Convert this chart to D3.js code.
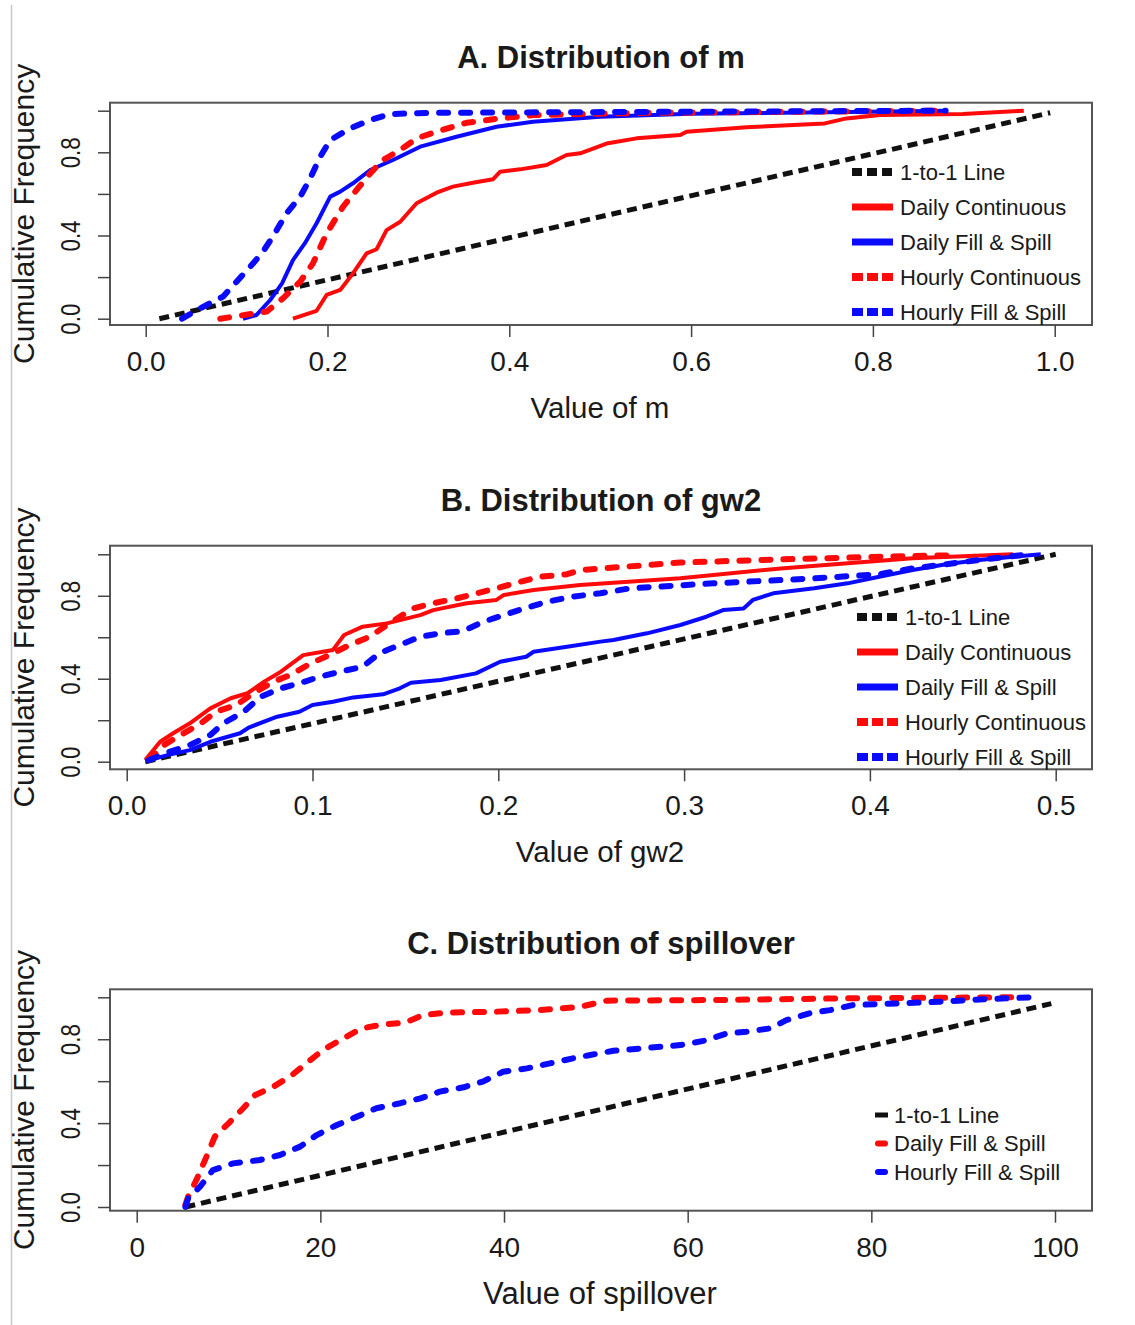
<!DOCTYPE html>
<html>
<head>
<meta charset="utf-8">
<script src="https://cdn.jsdelivr.net/npm/d3@7"></script>
<style>
    body { margin: 0; background: #ffffff; }
    svg text { font-family: "Liberation Sans", Arial, Helvetica, sans-serif; fill: #1a1a1a; }
</style>
</head>
<body>
<div id="chart"></div>
<script>

// ---- data: [value, cumulative frequency] ----

// A. m
let mOneToOne = [[0.015, 0], [0.995, 0.99]];
let mDailyCont = [[0.162,0],[0.188,0.038],[0.199,0.114],[0.214,0.138],[0.228,0.218],[0.243,0.314],[0.254,0.334],[0.265,0.426],[0.280,0.466],[0.298,0.555],[0.320,0.606],[0.338,0.635],[0.360,0.654],[0.382,0.670],[0.390,0.707],[0.412,0.718],[0.441,0.739],[0.463,0.787],[0.478,0.795],[0.507,0.842],[0.540,0.867],[0.588,0.883],[0.595,0.899],[0.661,0.920],[0.747,0.939],[0.771,0.963],[0.808,0.979],[0.899,0.984],[0.966,1.0]];
let mDailyFill = [[0.107,0],[0.122,0.018],[0.137,0.09],[0.150,0.17],[0.162,0.282],[0.175,0.362],[0.188,0.459],[0.203,0.587],[0.214,0.611],[0.228,0.651],[0.247,0.715],[0.272,0.763],[0.302,0.827],[0.342,0.875],[0.386,0.923],[0.426,0.947],[0.500,0.971],[0.600,0.985],[0.750,0.993],[0.881,1.0]];
let mHourlyCont = [[0.082,0],[0.133,0.034],[0.151,0.098],[0.170,0.178],[0.184,0.266],[0.199,0.41],[0.217,0.538],[0.232,0.619],[0.247,0.699],[0.261,0.763],[0.280,0.811],[0.298,0.867],[0.320,0.899],[0.353,0.942],[0.390,0.963],[0.426,0.979],[0.550,0.99],[0.880,1.0]];
let mHourlyFill = [[0.040,0],[0.060,0.05],[0.085,0.106],[0.100,0.178],[0.115,0.25],[0.129,0.322],[0.142,0.41],[0.155,0.507],[0.170,0.587],[0.181,0.675],[0.192,0.779],[0.203,0.859],[0.225,0.915],[0.247,0.955],[0.269,0.984],[0.316,0.99],[0.600,0.995],[0.880,1.0]];

// B. gw2
let gwOneToOne = [[0.01, 0], [0.5, 1.0]];
let gwDailyCont = [[0.010,0.008],[0.018,0.096],[0.025,0.137],[0.034,0.185],[0.045,0.257],[0.056,0.306],[0.065,0.33],[0.074,0.386],[0.083,0.434],[0.095,0.514],[0.111,0.539],[0.117,0.611],[0.127,0.651],[0.140,0.667],[0.158,0.707],[0.165,0.731],[0.183,0.764],[0.199,0.78],[0.203,0.804],[0.219,0.828],[0.244,0.852],[0.298,0.884],[0.352,0.932],[0.388,0.957],[0.423,0.981],[0.477,1.0]];
let gwDailyFill = [[0.010,0.003],[0.022,0.032],[0.034,0.056],[0.045,0.096],[0.061,0.137],[0.066,0.166],[0.081,0.217],[0.093,0.241],[0.100,0.273],[0.111,0.289],[0.122,0.31],[0.138,0.325],[0.147,0.354],[0.153,0.381],[0.169,0.394],[0.188,0.426],[0.201,0.482],[0.215,0.506],[0.219,0.53],[0.237,0.554],[0.255,0.579],[0.262,0.587],[0.280,0.619],[0.298,0.659],[0.312,0.699],[0.321,0.731],[0.332,0.739],[0.337,0.78],[0.348,0.812],[0.370,0.836],[0.388,0.86],[0.405,0.892],[0.423,0.924],[0.441,0.952],[0.459,0.973],[0.477,0.988],[0.492,1.0]];
let gwHourlyCont = [[0.012,0.008],[0.020,0.08],[0.029,0.129],[0.040,0.185],[0.048,0.241],[0.059,0.273],[0.068,0.33],[0.079,0.386],[0.088,0.418],[0.099,0.474],[0.109,0.514],[0.120,0.563],[0.131,0.603],[0.140,0.659],[0.154,0.739],[0.165,0.764],[0.178,0.788],[0.199,0.836],[0.212,0.868],[0.223,0.892],[0.237,0.904],[0.244,0.924],[0.298,0.96],[0.350,0.975],[0.400,0.987],[0.443,0.995]];
let gwHourlyFill = [[0.012,0.008],[0.023,0.048],[0.034,0.08],[0.045,0.129],[0.052,0.185],[0.063,0.241],[0.072,0.313],[0.083,0.354],[0.093,0.378],[0.104,0.41],[0.115,0.434],[0.127,0.458],[0.136,0.523],[0.147,0.563],[0.158,0.603],[0.169,0.619],[0.181,0.63],[0.192,0.675],[0.203,0.707],[0.214,0.739],[0.226,0.771],[0.240,0.796],[0.255,0.812],[0.271,0.836],[0.316,0.86],[0.370,0.884],[0.405,0.904],[0.423,0.932],[0.441,0.952],[0.459,0.973],[0.486,1.0]];

// C. spillover
let spOneToOne = [[5.3, 0], [99.6, 0.97]];
let spDailyFill = [[5.3,0.01],[5.6,0.049],[6.5,0.129],[7.6,0.24],[8.5,0.335],[10.0,0.399],[11.6,0.471],[12.9,0.534],[14.9,0.574],[16.9,0.629],[18.7,0.693],[20.3,0.749],[22.5,0.804],[24.5,0.852],[26.9,0.871],[29.2,0.879],[31.2,0.916],[33.8,0.927],[38.8,0.931],[43.9,0.939],[48.3,0.955],[51.2,0.984],[62.8,0.987],[77.3,0.995],[95.5,1.0]];
let spHourlyFill = [[5.3,0],[5.6,0.041],[6.9,0.097],[8.3,0.176],[10.5,0.208],[13.4,0.224],[15.6,0.248],[17.8,0.288],[19.6,0.343],[21.8,0.391],[24.0,0.431],[26.1,0.471],[28.7,0.495],[30.9,0.518],[33.0,0.55],[35.6,0.571],[37.7,0.598],[39.9,0.645],[42.5,0.661],[45.0,0.685],[47.5,0.709],[49.4,0.725],[51.9,0.745],[57.0,0.764],[59.2,0.772],[61.7,0.792],[64.3,0.828],[66.4,0.836],[69.0,0.852],[70.8,0.892],[73.3,0.924],[75.5,0.939],[78.0,0.963],[82.8,0.971],[87.5,0.979],[91.8,0.99],[97.6,1.0]];

// ticks and labels
let yTicks = [0, 0.2, 0.4, 0.6, 0.8, 1.0];
let yTickLabels = [0, 0.4, 0.8];
let mTicks = [0, 0.2, 0.4, 0.6, 0.8, 1.0];
let gwTicks = [0, 0.1, 0.2, 0.3, 0.4, 0.5];
let spTicks = [0, 20, 40, 60, 80, 100];

let titles = ["A. Distribution of m", "B. Distribution of gw2", "C. Distribution of spillover"];
let xLabels = ["Value of m", "Value of gw2", "Value of spillover"];
let yLabel = "Cumulative Frequency";
let legendAB = ["1-to-1 Line", "Daily Continuous", "Daily Fill & Spill", "Hourly Continuous", "Hourly Fill & Spill"];
let legendC = ["1-to-1 Line", "Daily Fill & Spill", "Hourly Fill & Spill"];


// ---- drawing ----

let RED = "#ff0a0a", BLUE = "#0a0aff", BLACK = "#111111";

let svg = d3.select("#chart").append("svg")
    .attr("width", 1135)
    .attr("height", 1325);

// thin page border on the left
svg.append("line")
    .attr("x1", 11.5).attr("x2", 11.5)
    .attr("y1", 5).attr("y2", 1325)
    .attr("stroke", "#c8c8c8")
    .attr("stroke-width", 1.5);

class CdfPanel {

    constructor(svg, config) {
        this.svg = svg;
        this.config = config;
        this.initVis();
    }

    initVis() {
        let vis = this;
        let c = vis.config;
        let box = c.box;

        vis.g = vis.svg.append("g");

        vis.x = d3.scaleLinear().domain(c.xDomain).range(c.xRange);
        vis.y = d3.scaleLinear().domain([0, 1]).range(c.yRange);

        vis.line = d3.line()
            .x(d => vis.x(d[0]))
            .y(d => vis.y(d[1]));

        // curves
        c.series.forEach(s => {
            let p = vis.g.append("path")
                .datum(s.data)
                .attr("fill", "none")
                .attr("stroke", s.color)
                .attr("d", vis.line);
            if (s.style === "one") {
                p.attr("stroke-width", 5).attr("stroke-dasharray", "10,6");
            } else if (s.style === "dashed") {
                p.attr("stroke-width", 6).attr("stroke-dasharray", "9,13")
                    .attr("stroke-linecap", "round").attr("stroke-linejoin", "round");
            } else {
                p.attr("stroke-width", 4).attr("stroke-linejoin", "round");
            }
        });

        // plot box
        vis.g.append("rect")
            .attr("x", box.x0).attr("y", box.y0)
            .attr("width", box.x1 - box.x0).attr("height", box.y1 - box.y0)
            .attr("fill", "none")
            .attr("stroke", "#555555")
            .attr("stroke-width", 2);

        // x axis
        vis.xAxis = d3.axisBottom(vis.x)
            .tickValues(c.xTicks)
            .tickSize(12)
            .tickPadding(14)
            .tickFormat(c.xFormat);

        let xg = vis.g.append("g")
            .attr("transform", "translate(0," + box.y1 + ")")
            .call(vis.xAxis);
        xg.select(".domain").remove();
        xg.selectAll(".tick line").attr("stroke", "#444").attr("stroke-width", 1.5);
        xg.selectAll(".tick text")
            .attr("font-size", 28)
            .attr("font-family", null)
            .attr("fill", "#1a1a1a");

        // y axis (labels parallel to the axis, like R)
        vis.yAxis = d3.axisLeft(vis.y)
            .tickValues(yTicks)
            .tickSize(12)
            .tickFormat(d => yTickLabels.includes(d) ? d3.format(".1f")(d) : "");

        let yg = vis.g.append("g")
            .attr("transform", "translate(" + box.x0 + ",0)")
            .call(vis.yAxis);
        yg.select(".domain").remove();
        yg.selectAll(".tick line").attr("stroke", "#444").attr("stroke-width", 1.5);
        yg.selectAll(".tick text")
            .attr("x", null)
            .attr("dy", "0.35em")
            .attr("font-size", 28)
            .attr("font-family", null)
            .attr("fill", "#1a1a1a")
            .attr("text-anchor", "middle")
            .attr("transform", "translate(-40,0) rotate(-90) scale(0.8,1)");

        // title
        vis.g.append("text")
            .attr("x", (box.x0 + box.x1) / 2)
            .attr("y", box.y0 - 35)
            .attr("text-anchor", "middle")
            .attr("font-size", 31)
            .attr("font-weight", "bold")
            .text(c.title);

        // x label
        vis.g.append("text")
            .attr("x", (box.x0 + box.x1) / 2 - 1)
            .attr("y", box.y1 + 93)
            .attr("text-anchor", "middle")
            .attr("font-size", c.xLabelSize)
            .text(c.xLabel);

        // y label
        vis.g.append("text")
            .attr("transform", `translate(34,${(box.y0 + box.y1) / 2}) rotate(-90)`)
            .attr("text-anchor", "middle")
            .attr("font-size", 30)
            .text(yLabel);

        vis.drawLegend();
    }

    drawLegend() {
        let vis = this;
        let lg = vis.config.legend;

        let items = vis.g.append("g").selectAll(".legend-item")
            .data(vis.config.series)
            .enter().append("g")
            .attr("class", "legend-item")
            .attr("transform", (d, i) => "translate(0," + (lg.y0 + i * lg.dy) + ")");

        items.append("line")
            .attr("x1", lg.x)
            .attr("x2", d => lg.compact && d.style === "dashed" ? lg.x + lg.w - 6 : lg.x + lg.w)
            .attr("transform", d => lg.compact && d.style === "dashed" ? "translate(3,0)" : null)
            .attr("y1", 0).attr("y2", 0)
            .attr("stroke", d => d.color)
            .attr("stroke-width", d => lg.compact ? (d.style === "one" ? 5 : 6) : (d.style === "solid" ? 7 : 8))
            .attr("stroke-linecap", d => lg.compact && d.style === "dashed" ? "round" : "butt")
            .attr("stroke-dasharray", d => {
                if (lg.compact) return null;
                if (d.style === "one") return "10,5";
                if (d.style === "dashed") return "11,4";
                return null;
            });

        items.append("text")
            .attr("x", lg.textX)
            .attr("y", 0)
            .attr("dy", "0.36em")
            .attr("font-size", 22)
            .text(d => d.label);
    }
}

let panelA = new CdfPanel(svg, {
    title: titles[0],
    xLabel: xLabels[0],
    xLabelSize: 29.5,
    box: {x0: 110, x1: 1092, y0: 102.7, y1: 325},
    xDomain: [0, 1], xRange: [145.7, 1054.7],
    yRange: [318.7, 110.7],
    xTicks: mTicks, xFormat: d3.format(".1f"),
    series: [
        {label: legendAB[0], data: mOneToOne, color: BLACK, style: "one"},
        {label: legendAB[1], data: mDailyCont, color: RED, style: "solid"},
        {label: legendAB[2], data: mDailyFill, color: BLUE, style: "solid"},
        {label: legendAB[3], data: mHourlyCont, color: RED, style: "dashed"},
        {label: legendAB[4], data: mHourlyFill, color: BLUE, style: "dashed"}
    ],
    legend: {x: 852, w: 41, textX: 900, y0: 172, dy: 35}
});

let panelB = new CdfPanel(svg, {
    title: titles[1],
    xLabel: xLabels[1],
    xLabelSize: 29.5,
    box: {x0: 110, x1: 1092, y0: 545.7, y1: 769.3},
    xDomain: [0, 0.5], xRange: [126.7, 1055.7],
    yRange: [761.7, 554.3],
    xTicks: gwTicks, xFormat: d3.format(".1f"),
    series: [
        {label: legendAB[0], data: gwOneToOne, color: BLACK, style: "one"},
        {label: legendAB[1], data: gwDailyCont, color: RED, style: "solid"},
        {label: legendAB[2], data: gwDailyFill, color: BLUE, style: "solid"},
        {label: legendAB[3], data: gwHourlyCont, color: RED, style: "dashed"},
        {label: legendAB[4], data: gwHourlyFill, color: BLUE, style: "dashed"}
    ],
    legend: {x: 857, w: 41, textX: 905, y0: 617, dy: 35}
});

let panelC = new CdfPanel(svg, {
    title: titles[2],
    xLabel: xLabels[2],
    xLabelSize: 31,
    box: {x0: 110, x1: 1092, y0: 989.3, y1: 1210.7},
    xDomain: [0, 100], xRange: [136.7, 1055],
    yRange: [1207, 997.3],
    xTicks: spTicks, xFormat: d3.format("d"),
    series: [
        {label: legendC[0], data: spOneToOne, color: BLACK, style: "one"},
        {label: legendC[1], data: spDailyFill, color: RED, style: "dashed"},
        {label: legendC[2], data: spHourlyFill, color: BLUE, style: "dashed"}
    ],
    legend: {x: 875, w: 13, textX: 894, y0: 1115, dy: 28.5, compact: true}
});

</script>
</body>
</html>
